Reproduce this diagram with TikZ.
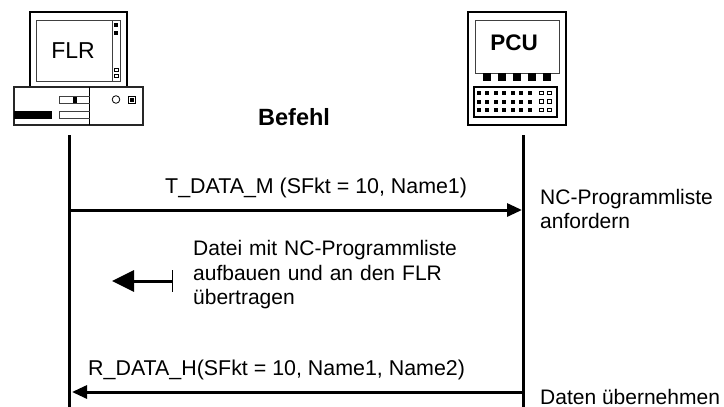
\documentclass[tikz,border=0pt]{standalone}
\usepackage{fontspec}
\setmainfont{Liberation Sans}
\usetikzlibrary{arrows.meta}
\tikzset{
  x=1pt,y=-1pt,
  life/.style={line width=3pt},
  msg/.style={line width=3pt,-{Triangle[length=15pt,width=13pt]}},
  big/.style={line width=2pt,draw},
  lbl/.style={font=\fontsize{21}{24.5}\selectfont,inner sep=0pt,align=left,anchor=west},
  lblw/.style={font=\fontsize{21.4}{24.5}\selectfont,inner sep=0pt,anchor=west},
  ink/.style={fill=black,draw=none},
  hollow/.style={draw,line width=0.7pt,fill=white},
}
\begin{document}
\begin{tikzpicture}
\useasboundingbox (0,0) rectangle (724,407);
% FLR computer
\draw[big] (30,12) rectangle (127,87);
\draw[line width=0.9pt,draw=black!75] (36.5,20) rectangle (120,81);
\draw[line width=0.9pt,draw=black!75] (112.5,20) -- (112.5,81);
\fill[ink] (114,23) rectangle (118,27);
\fill[ink] (114,31) rectangle (118,35);
\draw[hollow] (114,68.5) rectangle (118,71.5);
\draw[hollow] (114,74.5) rectangle (118,77.5);
\draw[line width=1.3pt,draw=black!85] (14,87) rectangle (143,125);
\draw[line width=0.9pt] (89.5,87) -- (89.5,125);
\draw[line width=0.9pt,draw=black!75] (89.5,96) -- (59.5,96) -- (59.5,103) -- (89.5,103);
\draw[line width=0.9pt,draw=black!75] (89.5,111) -- (59.5,111) -- (59.5,118) -- (89.5,118);
\fill[ink] (73,97) rectangle (77,103);
\fill[ink] (14,111) rectangle (52,119);
\draw[line width=0.8pt] (116,99.5) circle (3.8);
\draw[line width=0.9pt] (128,96) rectangle (135,103);
\fill[ink] (129.5,97.5) rectangle (133.5,101.5);
\node[font=\fontsize{23}{28}\selectfont,inner sep=0pt] (flr) at (73,50.5) {FLR};
% PCU
\draw[big] (468,12) rectangle (566,125);
\draw[line width=0.9pt,draw=black!75] (475,20) rectangle (559,73);
\foreach \x in {483,498,513,528,543}
  \fill[ink] (\x,73) rectangle ++(8,8);
\draw[line width=1.2pt] (474,87) rectangle (557,117);
\foreach \y in {91,99.5,108}{
  \foreach \x in {476.5,485,493.5,502,510.5,519,527.5}
    \fill[ink] (\x,\y) rectangle ++(4,4);
  \draw[hollow] (539.5,\y) rectangle ++(3.5,3.5);
  \draw[hollow] (547.5,\y) rectangle ++(3.5,3.5);
}
\node[font=\fontsize{22.5}{26}\selectfont\bfseries,inner sep=0pt] (pcu) at (514,43) {PCU};
% lifelines
\coordinate (a0) at (69.5,135); \coordinate (a1) at (69.5,407);
\coordinate (b0) at (523,135); \coordinate (b1) at (523,407);
\draw[life] (a0) -- (a1);
\draw[life] (b0) -- (b1);
% messages
\coordinate (m1a) at (70,210); \coordinate (m1b) at (522,210);
\coordinate (m2a) at (523,392); \coordinate (m2b) at (72,392);
\draw[msg] (m1a) -- (m1b);
\draw[msg] (m2a) -- (m2b);
\coordinate (s0) at (172,281); \coordinate (s1) at (112,281);
\draw[line width=3pt,-{Triangle[length=22pt,width=21pt]}] (s0) -- (s1);
\coordinate (t0) at (172.5,270); \coordinate (t1) at (172.5,292);
\draw[line width=0.8pt] (t0) -- (t1);
% labels
\node[lbl,font=\fontsize{23.5}{27}\selectfont\bfseries] (bef) at (258,117) {Befehl};
\node[lblw] (t1l) at (165,188) {T\_DATA\_M (SFkt = 10, Name1)};
\node[lbl,text width=180pt] (req) at (540,209) {NC-Programmliste\\anfordern};
\node[lbl,text width=280pt] (dat) at (193,275) {Datei mit NC-Programmliste\\aufbauen und an den FLR\\übertragen};
\node[lblw] (r1l) at (88,370) {R\_DATA\_H(SFkt = 10, Name1, Name2)};
\node[lbl] (tak) at (540,396.5) {Daten übernehmen};
\end{tikzpicture}
\end{document}
